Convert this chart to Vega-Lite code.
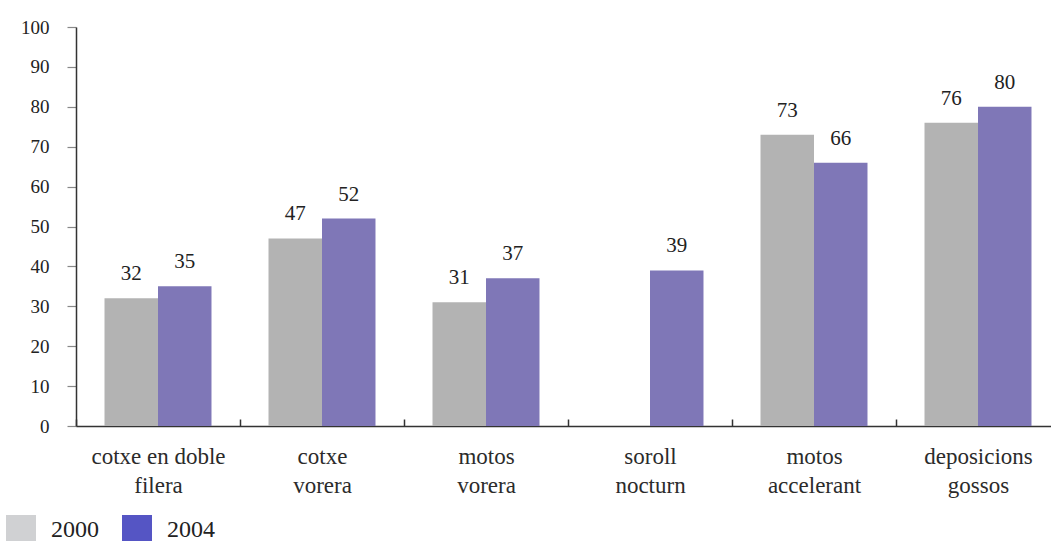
{
  "$schema": "https://vega.github.io/schema/vega-lite/v6.json",
  "width": 984,
  "height": 399,
  "autosize": "none",
  "padding": {"left": 76, "top": 27, "right": 0, "bottom": 115},
  "background": "white",
  "config": {
    "view": {"stroke": null},
    "font": "Liberation Serif"
  },
  "data": {
    "values": [
      {"category": "cotxe en doble|filera", "year": "2000", "value": 32},
      {"category": "cotxe en doble|filera", "year": "2004", "value": 35},
      {"category": "cotxe|vorera", "year": "2000", "value": 47},
      {"category": "cotxe|vorera", "year": "2004", "value": 52},
      {"category": "motos|vorera", "year": "2000", "value": 31},
      {"category": "motos|vorera", "year": "2004", "value": 37},
      {"category": "soroll|nocturn", "year": "2004", "value": 39},
      {"category": "motos|accelerant", "year": "2000", "value": 73},
      {"category": "motos|accelerant", "year": "2004", "value": 66},
      {"category": "deposicions|gossos", "year": "2000", "value": 76},
      {"category": "deposicions|gossos", "year": "2004", "value": 80}
    ]
  },
  "encoding": {
    "x": {
      "field": "category",
      "type": "nominal",
      "sort": null,
      "scale": {"paddingInner": 0, "paddingOuter": 0},
      "axis": {
        "title": null,
        "labelAngle": 0,
        "labelExpr": "split(datum.label, '|')",
        "labelFont": "Liberation Serif",
        "labelFontSize": 23,
        "labelColor": "#2b2b2b",
        "labelLineHeight": 29,
        "labelPadding": 26,
        "tickBand": "extent",
        "tickSize": -7,
        "tickColor": "#333333",
        "tickWidth": 1.5,
        "domainColor": "#333333",
        "domainWidth": 1.5
      }
    },
    "xOffset": {
      "field": "year",
      "type": "nominal",
      "scale": {"domain": ["2000", "2004"], "paddingInner": 0, "paddingOuter": 0.533}
    },
    "y": {
      "field": "value",
      "type": "quantitative",
      "scale": {"domain": [0, 100], "nice": false},
      "axis": {
        "title": null,
        "values": [0, 10, 20, 30, 40, 50, 60, 70, 80, 90, 100],
        "grid": false,
        "labelFont": "Liberation Serif",
        "labelFontSize": 19,
        "labelColor": "#222222",
        "labelPadding": 18,
        "tickSize": 9,
        "tickColor": "#888888",
        "tickWidth": 1.2,
        "domainColor": "#333333",
        "domainWidth": 1.5
      }
    }
  },
  "resolve": {"scale": {"color": "independent"}},
  "layer": [
    {
      "mark": {"type": "bar"},
      "encoding": {
        "color": {
          "field": "year",
          "type": "nominal",
          "scale": {"domain": ["2000", "2004"], "range": ["#b3b3b3", "#7f77b7"]},
          "legend": null
        }
      }
    },
    {
      "mark": {"type": "bar"},
      "encoding": {
        "y": {"datum": 0},
        "color": {
          "field": "year",
          "type": "nominal",
          "scale": {"domain": ["2000", "2004"], "range": ["#d0d1d3", "#5555c4"]},
          "legend": {
            "title": null,
            "orient": "none",
            "direction": "horizontal",
            "legendX": -70,
            "legendY": 488,
            "symbolType": "square",
            "symbolSize": 900,
            "symbolStrokeWidth": 0,
            "labelFont": "Liberation Serif",
            "labelFontSize": 24,
            "labelColor": "#222222",
            "labelOffset": 15,
            "columnPadding": 23
          }
        }
      }
    },
    {
      "mark": {"type": "text", "dy": -18, "baseline": "alphabetic", "fontSize": 21, "font": "Liberation Serif", "color": "#222222"},
      "encoding": {
        "text": {"field": "value", "type": "quantitative"}
      }
    }
  ]
}
